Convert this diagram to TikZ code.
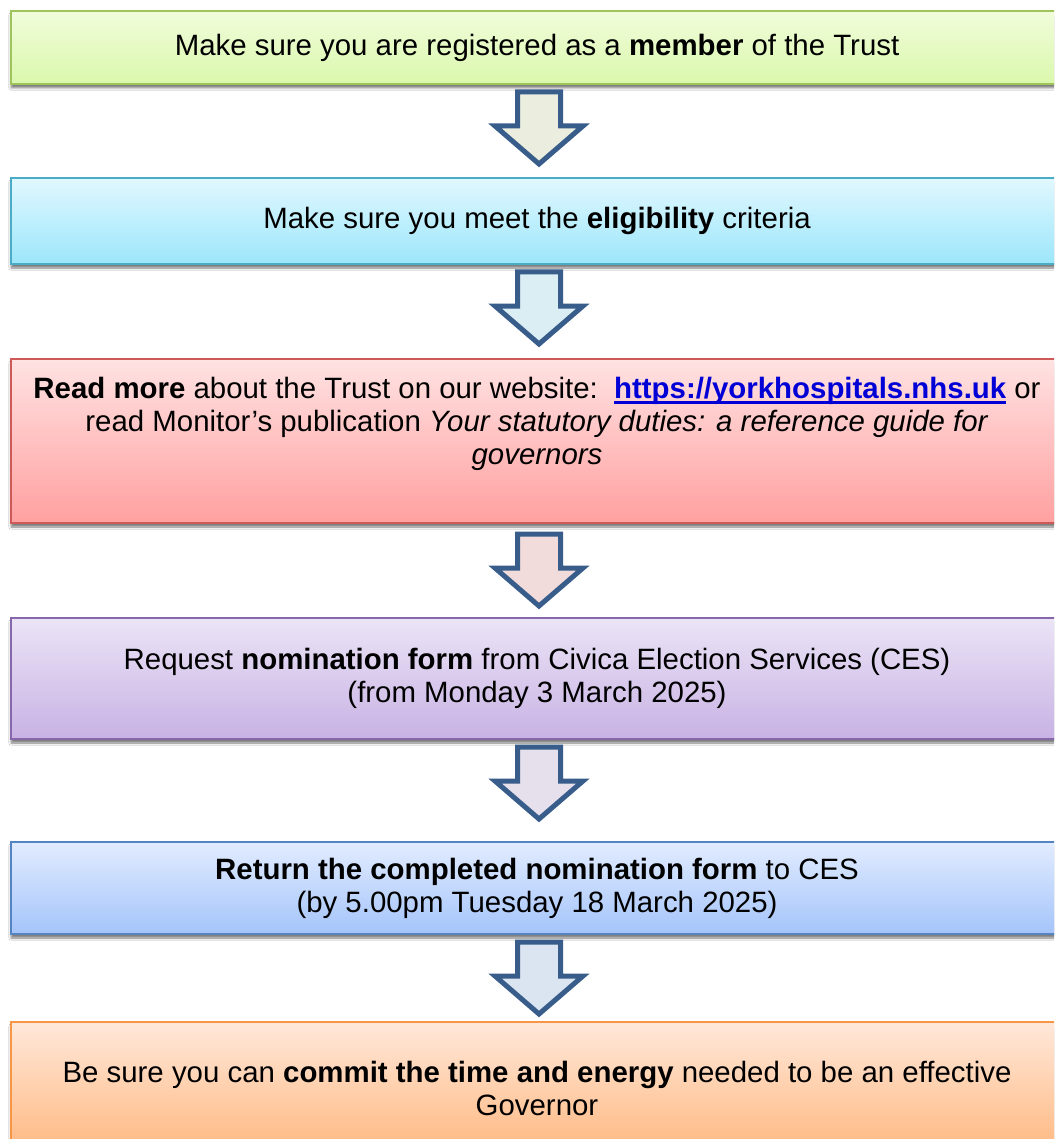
\documentclass[tikz,border=0pt]{standalone}
\usepackage{fontspec}
\setmainfont{Liberation Sans}
\usetikzlibrary{shadows.blur}
\definecolor{linkblue}{RGB}{0,0,214}
\definecolor{arrline}{RGB}{56,93,138}
\newcommand\ulink[1]{\setbox0\hbox{#1}\rlap{\rule[-5pt]{\wd0}{2.6pt}}\box0}
\tikzset{
  x=1pt, y=-1pt,
  stepbox/.style={rectangle, minimum width=1052pt, line width=2.4pt, align=center,
    font=\fontsize{29.4}{33}\selectfont, inner sep=0pt,
    blur shadow={shadow xshift=0pt, shadow yshift=-4pt, shadow blur steps=6, shadow opacity=50}},
  txt/.style={align=center, font=\fontsize{29.4}{33}\selectfont, inner sep=0pt},
  arr/.style={draw=arrline, line width=5pt, line join=miter}
}
\newcommand\blockarrow[2]{% top y, fill
  \draw[arr, fill=#2] (517.5,#1) -- (560.5,#1) -- (560.5,#1+34) -- (583,#1+34)
    -- (539,#1+72) -- (495,#1+34) -- (517.5,#1+34) -- cycle;}
\begin{document}
\begin{tikzpicture}
\useasboundingbox (0,0) rectangle (1054,1139);
\clip (0,0) rectangle (1054,1139);
\fill[white] (0,0) rectangle (1054,1139);

\node[stepbox, minimum height=73pt, draw={rgb,255:red,160;green,196;blue,92},
  top color={rgb,255:red,241;green,252;blue,219}, bottom color={rgb,255:red,218;green,248;blue,172}]
  (b1) at (537,47.5) {Make sure you are registered as a \textbf{member} of the Trust};

\node[stepbox, minimum height=86pt, draw={rgb,255:red,75;green,172;blue,198},
  top color={rgb,255:red,225;green,248;blue,255}, bottom color={rgb,255:red,156;green,230;blue,250}]
  (b2) at (537,221) {Make sure you meet the \textbf{eligibility} criteria};

\node[stepbox, minimum height=164pt, draw={rgb,255:red,206;green,90;blue,88},
  top color={rgb,255:red,255;green,226;blue,226}, bottom color={rgb,255:red,255;green,160;blue,160}]
  (b3) at (537,441) {};
\node[txt] (t3) at (537,424) {\textbf{Read more} about the Trust on our website:\ \ \textcolor{linkblue}{\textbf{\ulink{https://yorkhospitals.nhs.uk}}} or\\
  read Monitor’s publication \textit{Your statutory duties: a reference guide for}\\
  \textit{governors}};

\node[stepbox, minimum height=121pt, draw={rgb,255:red,134;green,104;blue,170},
  top color={rgb,255:red,235;green,228;blue,246}, bottom color={rgb,255:red,200;green,178;blue,228}]
  (b4) at (537,678.5) {Request \textbf{nomination form} from Civica Election Services (CES)\\(from Monday 3 March 2025)};

\node[stepbox, minimum height=92pt, draw={rgb,255:red,84;green,132;blue,194},
  top color={rgb,255:red,226;green,236;blue,255}, bottom color={rgb,255:red,164;green,196;blue,250}]
  (b5) at (537,888) {\textbf{Return the completed nomination form} to CES\\(by 5.00pm Tuesday 18 March 2025)};

\node[stepbox, minimum height=132pt, draw={rgb,255:red,247;green,150;blue,70},
  top color={rgb,255:red,255;green,232;blue,218}, bottom color={rgb,255:red,255;green,184;blue,128}]
  (b6) at (537,1088) {Be sure you can \textbf{commit the time and energy} needed to be an effective\\Governor};

\blockarrow{92}{{rgb,255:red,235;green,238;blue,222}}
\blockarrow{272}{{rgb,255:red,218;green,238;blue,243}}
\blockarrow{534}{{rgb,255:red,242;green,220;blue,219}}
\blockarrow{747}{{rgb,255:red,229;green,224;blue,236}}
\blockarrow{942}{{rgb,255:red,219;green,229;blue,241}}
\end{tikzpicture}
\end{document}
